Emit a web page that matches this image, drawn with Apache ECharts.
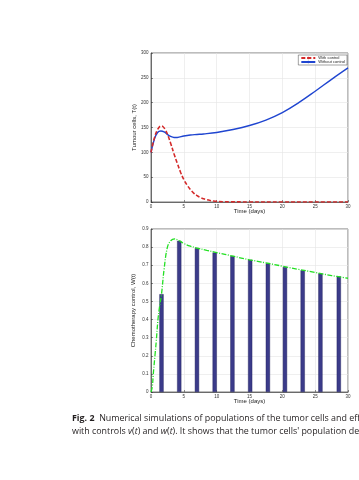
<!DOCTYPE html>
<html><head><meta charset="utf-8">
<script src="https://cdn.jsdelivr.net/npm/echarts@6/dist/echarts.min.js"></script>
<style>
html,body{margin:0;padding:0;background:#fff;width:359px;height:480px;overflow:hidden;}
#c{position:absolute;left:0;top:0;width:359px;height:480px;}
.cap{position:absolute;left:72px;white-space:nowrap;font-family:"Open Sans",sans-serif;font-size:8.9px;color:#231f20;}
</style></head><body>
<div id="c"></div>
<div class="cap" style="top:411px"><b>Fig. 2</b>&nbsp; Numerical simulations of populations of the tumor cells and effector cells</div>
<div class="cap" style="top:424px">with controls <i>v</i>(<i>t</i>) and <i>w</i>(<i>t</i>). It shows that the tumor cells' population decreases</div>
<script>
// Top panel: tumour cells
const tWith = [0,0.5,1,1.5,1.8,2.2,2.6,3,3.5,4,4.5,5,5.5,6,6.5,7,7.5,8,8.5,9,9.5,10,11,12,15,20,25,30];
const vWith = [100,128,146,153,152,145,133,118,97,78,60,45,34,25,18,13,9,6.5,4.5,3,2,1.3,0.6,0.3,0.1,0,0,0];
const tWithout = [0,0.5,1,1.5,2,2.5,3,3.5,4,5,6,7,8,10,12.5,15,17.5,20,22.5,25,27.5,30];
const vWithout = [100,126,140,143,141,136,132,130,130,133,135,136,137,140,146,154,165,180,200,223,247,270];
// Bottom panel: chemotherapy control
const tW = [0,0.2,0.35,0.6,0.8,1.06,1.3,1.6,2,2.5,3,3.6,4.3,5,6,7,8.5,10,12.5,15,17.5,20,22.5,25,27.5,30];
const vW = [0,0.03,0.1,0.2,0.28,0.4,0.47,0.54,0.68,0.8,0.835,0.845,0.835,0.82,0.805,0.795,0.782,0.77,0.75,0.73,0.713,0.695,0.677,0.66,0.643,0.628];
const barT = [1.6,4.3,7.0,9.7,12.4,15.1,17.8,20.4,23.1,25.8,28.6];
const barV = [0.54,0.835,0.795,0.77,0.75,0.73,0.71,0.69,0.672,0.655,0.638];

const pair = (a,b)=>a.map((x,i)=>[x,b[i]]);
const tickLbl = {fontSize:4.5,color:'#333',fontFamily:'Liberation Sans',margin:2.5};
const grid1 = {left:151,top:53,width:197,height:149,show:true,borderColor:'#222',borderWidth:0.6};
const grid2 = {left:151,top:229,width:197,height:163,show:true,borderColor:'#222',borderWidth:0.6};
function xa(gi){return {type:'value',gridIndex:gi,min:0,max:30,interval:5,
  name:'Time (days)',nameLocation:'middle',nameGap:6,nameMoveOverlap:false,
  nameTextStyle:{fontSize:6,color:'#222',fontFamily:'Liberation Sans'},
  axisLine:{lineStyle:{color:'#222',width:0.6}},axisTick:{inside:true,length:2,lineStyle:{color:'#222',width:0.5}},
  axisLabel:tickLbl,splitLine:{show:true,lineStyle:{color:'#e4e4e4',width:0.6}}};}
function ya(gi,max,iv,name,gap,fmt){return {type:'value',gridIndex:gi,min:0,max:max,interval:iv,
  name:name,nameLocation:'middle',nameGap:gap,nameMoveOverlap:false,
  nameTextStyle:{fontSize:6,color:'#222',fontFamily:'Liberation Sans'},
  axisLine:{lineStyle:{color:'#222',width:0.6}},axisTick:{inside:true,length:2,lineStyle:{color:'#222',width:0.5}},
  axisLabel:Object.assign({formatter:fmt},tickLbl),splitLine:{show:true,lineStyle:{color:'#e4e4e4',width:0.6}}};}

const chart = echarts.init(document.getElementById('c'),null,{renderer:'canvas'});
chart.setOption({
  animation:false,
  grid:[grid1,grid2],
  xAxis:[xa(0),xa(1)],
  yAxis:[ya(0,300,50,'Tumour cells, T(t)',14,v=>String(v)),
         ya(1,0.9,0.1,'Chemotherapy control, W(t)',15,v=>String(+v.toFixed(1)))],
  legend:{data:['With control','Without control'],orient:'vertical',right:12,top:55,
    itemWidth:14,itemHeight:3,itemGap:0,padding:[1,2,1,2],
    backgroundColor:'#fff',borderColor:'#444',borderWidth:0.5,
    textStyle:{fontSize:4,color:'#222',fontFamily:'Liberation Sans',padding:[0,0,0,-2]}},
  series:[
    {name:'With control',type:'line',xAxisIndex:0,yAxisIndex:0,data:pair(tWith,vWith),smooth:0.4,symbol:'none',
      lineStyle:{color:'#d42a2a',width:1.6,type:[4,2]},itemStyle:{color:'#d42a2a'},z:3},
    {name:'Without control',type:'line',xAxisIndex:0,yAxisIndex:0,data:pair(tWithout,vWithout),smooth:0.4,symbol:'none',
      lineStyle:{color:'#1f45d0',width:1.4},itemStyle:{color:'#1f45d0'},z:2},
    {name:'bars',type:'bar',xAxisIndex:1,yAxisIndex:1,data:pair(barT,barV),barWidth:4.2,
      itemStyle:{color:'#3b3b8a',borderColor:'#1c1c55',borderWidth:0.4},z:2},
    {name:'W',type:'line',xAxisIndex:1,yAxisIndex:1,data:pair(tW,vW),smooth:0.4,symbol:'none',
      lineStyle:{color:'#22e022',width:1.3,type:[5,1.5,1,1.5]},z:3}
  ]
});
</script>
</body></html>
